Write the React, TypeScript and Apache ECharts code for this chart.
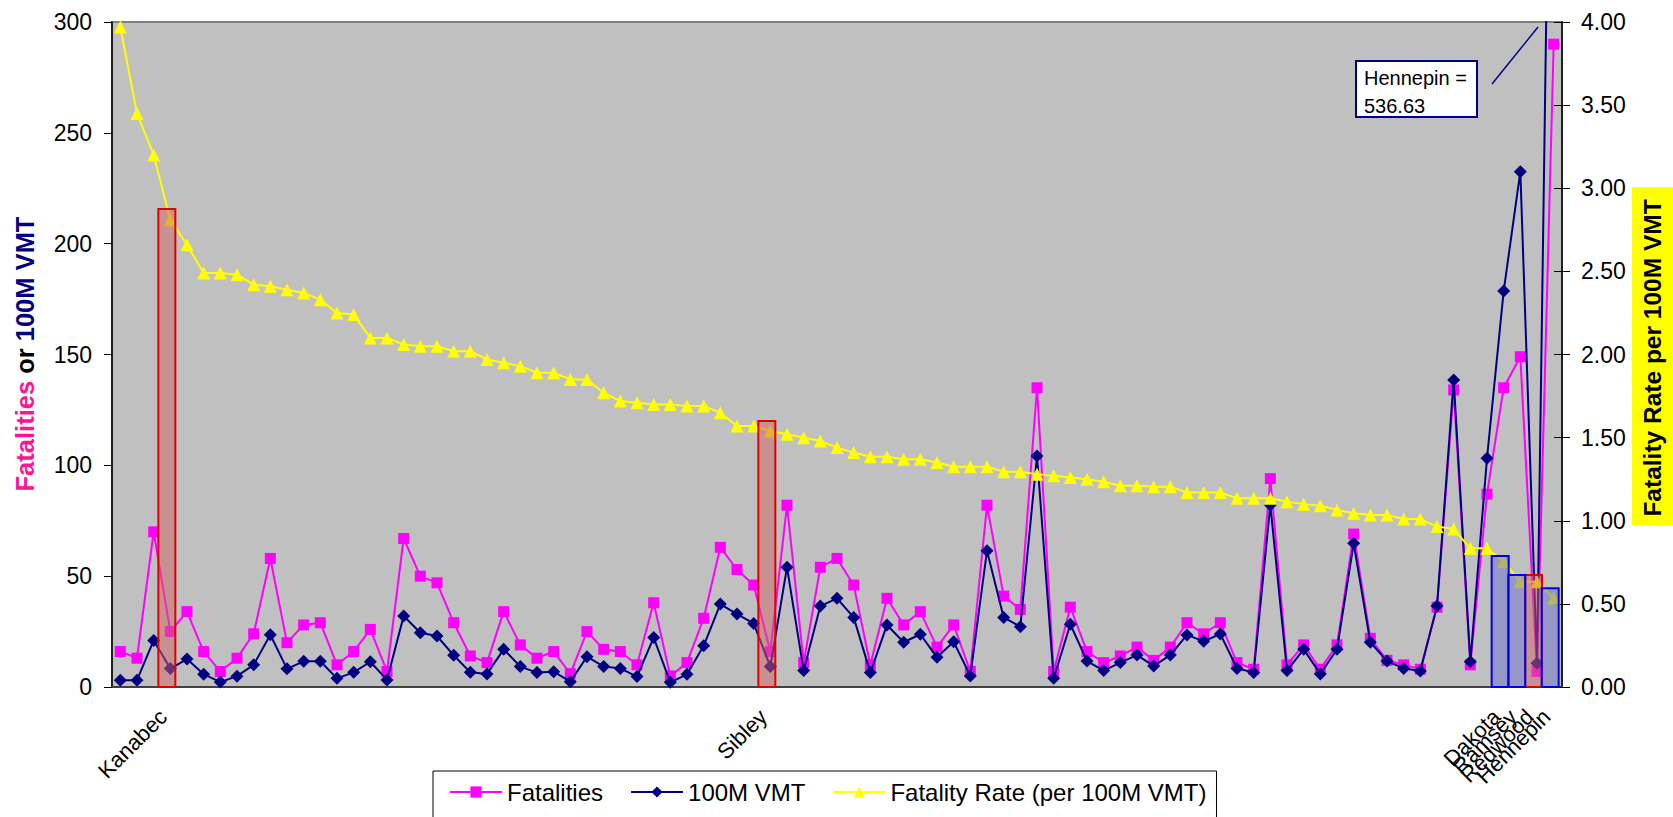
import React, { useEffect, useRef } from "react";
import * as echarts from "echarts";

// Minnesota counties, sorted by fatality rate (highest first); only a few are named on the axis
const COUNTY_COUNT = 87;
const namedCounties: [number, string][] = [
  [3, "Kanabec"],
  [39, "Sibley"],
  [83, "Dakota"],
  [84, "Ramsey"],
  [85, "Redwood"],
  [86, "Hennepin"],
];

const fatalities: number[] = [
  16, 13, 70, 25, 34, 16, 7, 13, 24, 58,
  20, 28, 29, 10, 16, 26, 7, 67, 50, 47,
  29, 14, 11, 34, 19, 13, 16, 6, 25, 17,
  16, 10, 38, 5, 11, 31, 63, 53, 46, 16,
  82, 11, 54, 58, 46, 10, 40, 28, 34, 18,
  28, 7, 82, 41, 35, 135, 7, 36, 16, 11,
  14, 18, 12, 18, 29, 24, 29, 11, 8, 94,
  10, 19, 8, 19, 69, 22, 12, 10, 8, 36,
  134, 10, 87, 135, 149, 7, 290,
];

const vmt100M: number[] = [
  3.0, 3.1, 21.0, 8.3, 12.6, 5.8, 2.2, 4.9, 10.0, 23.6,
  8.2, 11.6, 11.6, 3.9, 6.6, 11.4, 3.2, 32.0, 24.5, 23.0,
  14.3, 6.6, 5.9, 17.0, 9.2, 6.5, 6.9, 2.4, 13.7, 9.2,
  8.4, 4.7, 22.3, 2.1, 5.7, 18.6, 37.4, 32.9, 28.7, 9.2,
  54.0, 7.4, 36.5, 40.0, 31.4, 6.5, 28.0, 20.2, 23.8, 13.4,
  20.4, 5.0, 61.5, 31.4, 27.2, 104.2, 3.9, 28.3, 11.7, 7.4,
  11.0, 14.4, 9.5, 14.4, 23.5, 20.6, 23.9, 8.4, 6.5, 82.1,
  7.4, 17.0, 5.9, 17.0, 64.8, 20.2, 11.7, 8.4, 7.2, 36.5,
  138.5, 11.4, 103.2, 178.6, 232.5, 10.7, 536.63,
];

const fatalityRate: number[] = [
  3.97, 3.45, 3.2, 2.81, 2.66, 2.49, 2.49, 2.48, 2.42, 2.41,
  2.39, 2.37, 2.33, 2.25, 2.24, 2.1, 2.1, 2.06, 2.05, 2.05,
  2.02, 2.02, 1.97, 1.95, 1.93, 1.89, 1.89, 1.85, 1.85, 1.77,
  1.72, 1.71, 1.7, 1.7, 1.69, 1.69, 1.65, 1.57, 1.57, 1.54,
  1.52, 1.5, 1.48, 1.44, 1.41, 1.385, 1.385, 1.37, 1.37, 1.35,
  1.325, 1.325, 1.325, 1.295, 1.295, 1.28, 1.27, 1.26, 1.25, 1.235,
  1.21, 1.21, 1.205, 1.205, 1.17, 1.17, 1.17, 1.135, 1.135, 1.135,
  1.115, 1.1, 1.09, 1.065, 1.045, 1.035, 1.035, 1.01, 1.01, 0.965,
  0.95, 0.834, 0.834, 0.754, 0.633, 0.633, 0.534,
];

// Highlight boxes drawn around selected counties (right-axis units)
const redHighlights: [number, number][] = [
  [3, 2.875],
  [39, 1.6],
  [85, 0.674],
];
const blueHighlights: [number, number][] = [
  [83, 0.788],
  [84, 0.674],
  [86, 0.594],
];

const leftTicks = [0, 50, 100, 150, 200, 250, 300];
const rightTicks = [0, 0.5, 1, 1.5, 2, 2.5, 3, 3.5, 4];

const FONT = "'Liberation Sans', Arial, sans-serif";

function buildCategories(): string[] {
  const cats: string[] = new Array(COUNTY_COUNT).fill("");
  namedCounties.forEach(([i, name]) => (cats[i] = name));
  return cats;
}

// Highlight box: a translucent outlined column, nudged a little left of the category centre
function highlightRenderer(fill: string, stroke: string) {
  return (_params: any, api: any) => {
    const idx = api.value(0);
    const v = api.value(1);
    const top = api.coord([idx, v]);
    const base = api.coord([idx, 0]);
    const w = 17;
    return {
      type: "rect",
      shape: { x: top[0] - w / 2 - 3.5, y: top[1], width: w, height: base[1] - top[1] },
      style: { fill, stroke, lineWidth: 2 },
    };
  };
}

export default function App() {
  const ref = useRef<HTMLDivElement>(null);

  useEffect(() => {
    document.body.style.margin = "0";
    if (!ref.current) return;
    const chart = echarts.init(ref.current, null, { renderer: "svg" });
    const categories = buildCategories();
    const hennepinIdx = namedCounties.find((c) => c[1] === "Hennepin")![0];

    const option: any = {
      animation: false,
      textStyle: { fontFamily: FONT },
      grid: {
        left: 112,
        right: 111,
        top: 22,
        bottom: 130,
        show: true,
        backgroundColor: "#c0c0c0",
        borderColor: "#808080",
        borderWidth: 2,
      },
      legend: {
        data: ["Fatalities", "100M VMT", "Fatality Rate (per 100M VMT)"],
        left: 433,
        top: 771,
        orient: "horizontal",
        backgroundColor: "#ffffff",
        borderColor: "#000000",
        borderWidth: 1,
        padding: [9, 10, 14, 16],
        itemGap: 27,
        itemWidth: 52,
        itemHeight: 14,
        textStyle: { fontSize: 24, color: "#000", fontFamily: FONT },
      },
      xAxis: {
        type: "category",
        data: categories,
        boundaryGap: true,
        axisLine: { show: true, lineStyle: { color: "#404040", width: 2 } },
        axisTick: { show: false },
        axisLabel: {
          interval: 0,
          rotate: 45,
          fontSize: 22,
          color: "#000",
          fontFamily: FONT,
          margin: 19,
          padding: [0, 10, 0, 0],
        },
        splitLine: { show: false },
      },
      yAxis: [
        {
          type: "value",
          position: "left",
          min: leftTicks[0],
          max: leftTicks[leftTicks.length - 1],
          interval: leftTicks[1] - leftTicks[0],
          axisLine: { show: true, lineStyle: { color: "#000", width: 1.5 } },
          axisTick: { show: true, inside: false, length: 8, lineStyle: { color: "#000" } },
          axisLabel: { fontSize: 23, color: "#000", margin: 20, fontFamily: FONT },
          splitLine: { show: false },
        },
        {
          type: "value",
          position: "right",
          min: rightTicks[0],
          max: rightTicks[rightTicks.length - 1],
          interval: rightTicks[1] - rightTicks[0],
          axisLine: { show: true, lineStyle: { color: "#000", width: 1.5 } },
          axisTick: { show: true, inside: false, length: 8, lineStyle: { color: "#000" } },
          axisLabel: {
            fontSize: 23,
            color: "#000",
            margin: 19,
            fontFamily: FONT,
            formatter: (v: number) => v.toFixed(2),
          },
          splitLine: { show: false },
        },
        {
          // inner half of the crossing ticks on the right axis
          type: "value",
          position: "right",
          min: rightTicks[0],
          max: rightTicks[rightTicks.length - 1],
          interval: rightTicks[1] - rightTicks[0],
          axisLine: { show: false },
          axisTick: { show: true, inside: true, length: 8, lineStyle: { color: "#000" } },
          axisLabel: { show: false },
          splitLine: { show: false },
        },
      ],
      series: [
        {
          name: "Fatalities",
          type: "line",
          yAxisIndex: 0,
          data: fatalities,
          symbol: "rect",
          symbolSize: 11,
          itemStyle: { color: "#ff00ff" },
          lineStyle: { color: "#ff00ff", width: 2 },
          z: 2,
        },
        {
          name: "100M VMT",
          type: "line",
          yAxisIndex: 0,
          data: vmt100M,
          symbol: "diamond",
          symbolSize: 13,
          itemStyle: { color: "#000080" },
          lineStyle: { color: "#000080", width: 2 },
          z: 3,
        },
        {
          name: "Fatality Rate (per 100M VMT)",
          type: "line",
          yAxisIndex: 1,
          data: fatalityRate,
          symbol: "triangle",
          symbolSize: 13,
          itemStyle: { color: "#ffff00" },
          lineStyle: { color: "#ffff00", width: 2 },
          z: 4,
        },
        {
          name: "highlight-red",
          type: "custom",
          yAxisIndex: 1,
          data: redHighlights,
          encode: { x: 0, y: 1 },
          silent: true,
          renderItem: highlightRenderer("rgba(208,98,98,0.5)", "#e00000"),
          z: 6,
        },
        {
          name: "highlight-blue",
          type: "custom",
          yAxisIndex: 1,
          data: blueHighlights,
          encode: { x: 0, y: 1 },
          silent: true,
          renderItem: highlightRenderer("rgba(108,108,208,0.5)", "#0000e0"),
          z: 6,
        },
      ],
      graphic: [
        {
          type: "text",
          x: 25,
          y: 354,
          rotation: Math.PI / 2,
          z: 100,
          style: {
            text: "{a|Fatalities} {b|or} {c|100M VMT}",
            align: "center",
            verticalAlign: "middle",
            font: `bold 25.5px ${FONT}`,
            rich: {
              a: { fill: "#ff1493", fontSize: 25.5, fontWeight: "bold", fontFamily: FONT },
              b: { fill: "#000000", fontSize: 25.5, fontWeight: "bold", fontFamily: FONT },
              c: { fill: "#000080", fontSize: 25.5, fontWeight: "bold", fontFamily: FONT },
            },
          },
        },
        {
          type: "rect",
          z: 100,
          shape: { x: 1632, y: 187, width: 42, height: 338 },
          style: { fill: "#ffff00" },
        },
        {
          type: "text",
          x: 1652,
          y: 358,
          rotation: Math.PI / 2,
          z: 101,
          style: {
            text: "Fatality Rate per 100M VMT",
            align: "center",
            verticalAlign: "middle",
            font: `bold 24.5px ${FONT}`,
            fill: "#000",
          },
        },
        {
          type: "line",
          z: 100,
          shape: { x1: 1492, y1: 84, x2: 1538, y2: 27 },
          style: { stroke: "#000080", lineWidth: 1.5 },
        },
        {
          type: "rect",
          z: 100,
          shape: { x: 1356, y: 61, width: 121, height: 56 },
          style: { fill: "#ffffff", stroke: "#000080", lineWidth: 2 },
        },
        {
          type: "text",
          x: 1364,
          y: 64,
          z: 101,
          style: {
            text: `Hennepin =\n${vmt100M[hennepinIdx].toFixed(2)}`,
            font: `20px ${FONT}`,
            lineHeight: 28,
            fill: "#000",
            align: "left",
            verticalAlign: "top",
          },
        },
      ],
    };

    chart.setOption(option);
    return () => chart.dispose();
  }, []);

  return <div ref={ref} style={{ width: 1673, height: 817 }} />;
}
